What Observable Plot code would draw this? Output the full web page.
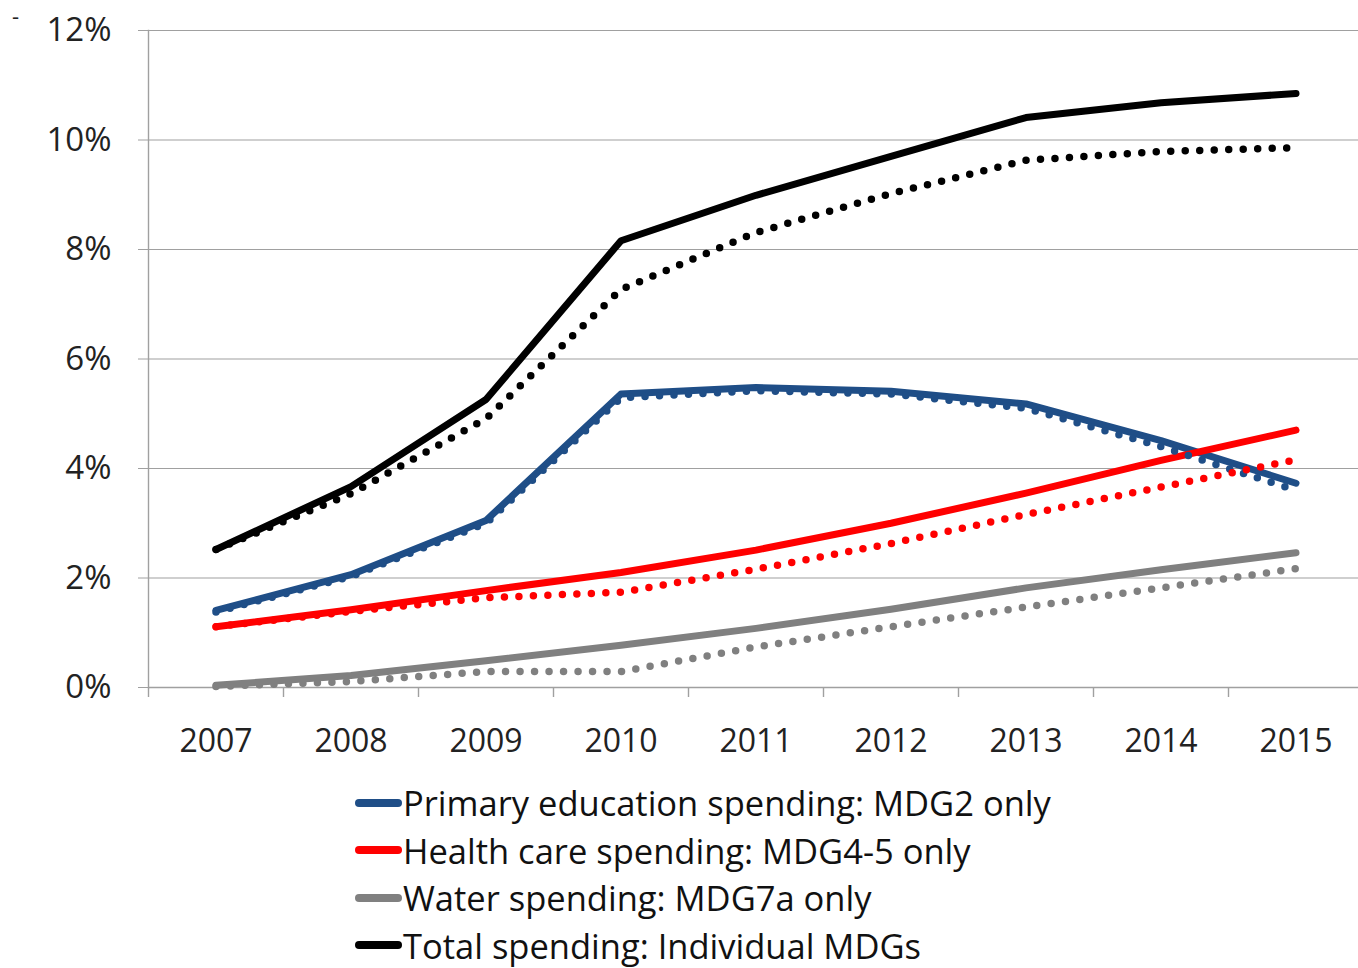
<!DOCTYPE html>
<html><head><meta charset="utf-8">
<script src="https://cdn.jsdelivr.net/npm/d3@7"></script>
<script src="https://cdn.jsdelivr.net/npm/@observablehq/plot@0.6"></script>
<style>
body{margin:0;background:#fff;font-family:"Open Sans",sans-serif;width:1358px;height:968px;overflow:hidden;position:relative;}
#chart{position:absolute;left:0;top:0;}
#legend{position:absolute;left:355px;top:779px;}
.row{display:flex;align-items:center;height:47.5px;font-size:34.5px;color:#111;white-space:nowrap;}
.sw{width:47px;height:8px;border-radius:4px;margin-right:1px;}
#dash{position:absolute;left:12px;top:0px;font-size:22px;color:#222;z-index:5;}
</style></head><body>
<div id="chart"></div><div id="legend"></div>
<div id="dash">-</div>
<script>
const years = [2007, 2008, 2009, 2010, 2011, 2012, 2013, 2014, 2015];
const yTicks = [0, 2, 4, 6, 8, 10, 12];
const seriesNames = [
  "Primary education spending: MDG2 only",
  "Health care spending: MDG4-5 only",
  "Water spending: MDG7a only",
  "Total spending: Individual MDGs"
];
const seriesColors = ["#1F4E87", "#FF0000", "#808080", "#000000"];
// solid lines (values in %)
const eduSolid    = [1.41, 2.06, 3.05, 5.36, 5.48, 5.41, 5.18, 4.51, 3.73];
const healthSolid = [1.11, 1.42, 1.77, 2.10, 2.51, 3.00, 3.55, 4.15, 4.70];
const waterSolid  = [0.04, 0.22, 0.49, 0.77, 1.08, 1.43, 1.82, 2.15, 2.46];
const totalSolid  = [2.52, 3.67, 5.26, 8.16, 8.99, 9.70, 10.41, 10.68, 10.85];
// dotted lines (values in %)
const eduDotted    = [1.38, 2.03, 3.00, 5.29, 5.42, 5.36, 5.10, 4.40, 3.60];
const healthDotted = [1.11, 1.39, 1.64, 1.74, 2.16, 2.63, 3.16, 3.66, 4.16];
const waterDotted  = [0.02, 0.11, 0.29, 0.29, 0.74, 1.11, 1.47, 1.82, 2.17];
const totalDotted  = [2.52, 3.54, 4.91, 7.27, 8.31, 9.02, 9.63, 9.79, 9.86];

const solidSets = [eduSolid, healthSolid, waterSolid, totalSolid];
const dottedSets = [eduDotted, healthDotted, waterDotted, totalDotted];
const toRows = sets => sets.flatMap((vals, i) => vals.map((v, j) => ({year: years[j], value: v, series: seriesNames[i], color: seriesColors[i]})));
const solidRows = toRows(solidSets);
const dottedRows = toRows(dottedSets);
const boundaries = [years[0] - 0.5, ...years.map(y => y + 0.5)];

const plot = Plot.plot({
  width: 1358,
  height: 780,
  marginTop: 30,
  marginBottom: 93,
  marginLeft: 148,
  marginRight: 0,
  style: {fontFamily: "'Open Sans', sans-serif", background: "#fff", overflow: "visible"},
  x: {type: "linear", domain: [years[0] - 0.5, years[years.length - 1] + 0.5], range: [148, 1363]},
  y: {domain: [0, 12]},
  marks: [
    Plot.gridY(yTicks, {stroke: "#a0a0a0", strokeOpacity: 1, strokeWidth: 1.2}),
    Plot.axisY(yTicks, {tickFormat: d => d + "%", fontSize: 33, tickSize: 10, tickPadding: 27, stroke: "#a0a0a0", fill: "#222", label: null}),
    Plot.frame({anchor: "left", stroke: "#a0a0a0", strokeWidth: 1.4}),
    Plot.ruleY([0], {stroke: "#a0a0a0", strokeWidth: 1.4}),
    Plot.axisX(boundaries, {tickSize: 10, tickFormat: () => "", stroke: "#a0a0a0", strokeWidth: 1.4, label: null}),
    Plot.axisX(years, {tickSize: 0, tickPadding: 42, fontSize: 32, fill: "#222", tickFormat: d => String(d), label: null}),
    Plot.line(solidRows, {x: "year", y: "value", z: "series", stroke: "color", strokeWidth: 7, strokeLinecap: "round", strokeLinejoin: "round"}),
    Plot.line(dottedRows, {x: "year", y: "value", z: "series", stroke: "color", strokeWidth: 7.5, strokeDasharray: "0 14.5", strokeLinecap: "round", strokeLinejoin: "round"})
  ]
});
document.getElementById("chart").append(plot);

const legend = document.getElementById("legend");
seriesNames.forEach((name, i) => {
  const row = document.createElement("div");
  row.className = "row";
  const sw = document.createElement("div");
  sw.className = "sw";
  sw.style.background = seriesColors[i];
  const t = document.createElement("span");
  t.textContent = name;
  row.append(sw, t);
  legend.append(row);
});
</script>
</body></html>
